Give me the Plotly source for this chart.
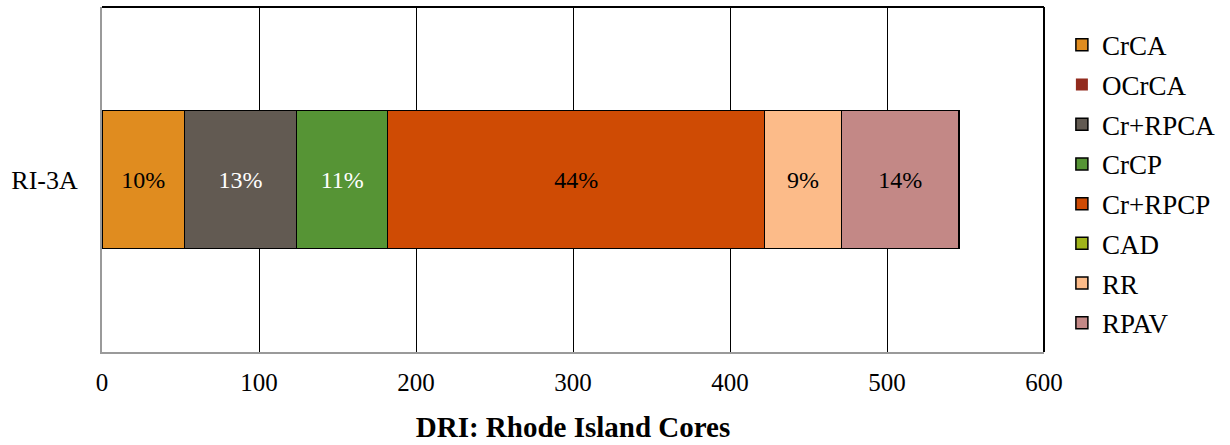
import plotly.graph_objects as go

# Core sample and component totals (DRI units)
category = ["RI-3A"]
components = ["CrCA", "OCrCA", "Cr+RPCA", "CrCP", "Cr+RPCP", "CAD", "RR", "RPAV"]
values = [52.5, 0, 71.5, 58.0, 240.0, 0, 49.0, 75.0]
colors = ["#E08C1F", "#922B1E", "#625A52", "#569435", "#CF4B04", "#A0B41A", "#FCBB89", "#C38886"]
label_colors = ["black", "black", "white", "white", "black", "black", "black", "black"]
x_ticks = [0, 100, 200, 300, 400, 500, 600]

FONT = "Liberation Serif, Times New Roman, Times, serif"
total = sum(values)

fig = go.Figure()
for name, v, c, lc in zip(components, values, colors, label_colors):
    pct = f"{round(100 * v / total)}%" if v > 0 else ""
    fig.add_trace(go.Bar(
        y=category, x=[v], name=name, orientation="h",
        marker=dict(color=c, line=dict(color="black", width=0 if name == "OCrCA" else 1.5)),
        text=[pct], textposition="inside", insidetextanchor="middle",
        textfont=dict(family=FONT, size=24, color=lc),
        width=0.4, legendgroup=name,
    ))

fig.update_layout(
    barmode="stack",
    width=1230, height=445,
    margin=dict(l=102, r=186, t=7, b=93),
    paper_bgcolor="white", plot_bgcolor="white",
    font=dict(family=FONT, size=24, color="black"),
    uniformtext=dict(mode="show", minsize=10),
    legend=dict(
        traceorder="grouped", x=1.019, y=0.96, xanchor="left", yanchor="top",
        font=dict(family=FONT, size=27, color="black"),
        tracegroupgap=1.6, itemwidth=30,
    ),
    xaxis=dict(
        range=[0, 600], tickvals=x_ticks, ticks="",
        showgrid=True, gridcolor="black", gridwidth=1.2,
        showline=True, linecolor="#9A9A9A", linewidth=2,
        zeroline=False, tickfont=dict(family=FONT, size=25),
        ticklabelstandoff=7,
        title=dict(text="<b>DRI: Rhode Island Cores</b>", font=dict(family=FONT, size=29), standoff=22),
    ),
    yaxis=dict(
        range=[-0.5, 0.5], showgrid=False, zeroline=False,
        showline=True, linecolor="#9A9A9A", linewidth=2,
        ticks="", ticklabelstandoff=17, tickfont=dict(family=FONT, size=26),
    ),
    shapes=[
        dict(type="line", xref="paper", yref="paper", x0=0, x1=1, y0=1, y1=1,
             line=dict(color="black", width=2)),
        dict(type="line", xref="paper", yref="paper", x0=1, x1=1, y0=0, y1=1,
             line=dict(color="black", width=2)),
    ],
)

fig.write_html("out.html")
